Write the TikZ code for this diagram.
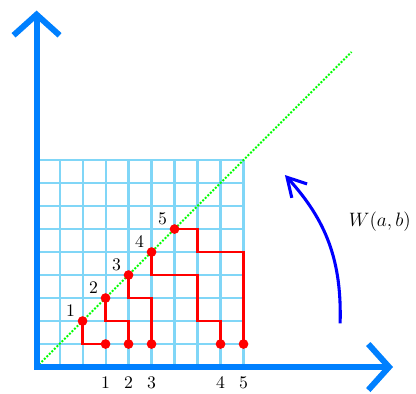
\documentclass[tikz,border=0pt]{standalone}
\usepackage{amsmath,amssymb}
\usetikzlibrary{arrows.meta, positioning, calc}
\definecolor{axisblue}{RGB}{0,128,255}
\begin{document}
\begin{tikzpicture}[x=0.5cm, y=0.5cm,
  axis/.style={draw=axisblue, line width=3.7pt,
               {Straight Barb[length=4.5mm, width=10mm]}-{Straight Barb[length=4.5mm, width=10mm]}},
  gridline/.style={draw=cyan!50, line width=1.3pt},
  diag/.style={draw=green, line width=1.2pt, dash pattern=on 1.2pt off 1pt},
  walk/.style={draw=red, line width=1.5pt},
  dot/.style={circle, fill=red, inner sep=0pt, minimum size=6pt},
  num/.style={font=\fontsize{11}{13}\selectfont, inner sep=1pt},
  turn/.style={draw=blue, line width=1.9pt, -{Straight Barb[length=4mm, width=4.5mm]}}]
\useasboundingbox (-1.59,-1.17) rectangle (16.5,15.96);
\draw[gridline, step=0.5cm] (0,0) grid (9.02,9.02);
\coordinate (o) at (0,0);
\coordinate (diagend) at (13.7,13.7);
\draw[diag] (o) -- (diagend);
\foreach \i/\x in {1/3,2/4,3/5,4/8,5/9} {
  \coordinate (d\i) at (\i+1,\i+1);
  \coordinate (b\i) at (\x,1);
  \node[num, above left=1.5pt and 3.5pt of d\i] (dl\i) {$\i$};
  \node[num] (bl\i) at (\x,-0.7) {$\i$};
}
\draw[walk] (d1) |- (b1);
\draw[walk] (d2) -- ++(0,-1) -| (b2);
\draw[walk] (d3) -- ++(0,-1) -| (b3);
\draw[walk] (d4) -- ++(0,-1) -| (7,2) -| (b4);
\draw[walk] (d5) -| (7,5) -| (b5);
\foreach \i in {1,...,5} {
  \node[dot] (pd\i) at (d\i) {};
  \node[dot] (pb\i) at (b\i) {};
}
\coordinate (ytip) at (0,15.5);
\coordinate (xtip) at (15.5,0);
\draw[axis] (ytip) -- (o) -- (xtip);
\coordinate (wstart) at (13.2,1.9);
\coordinate (wend) at (10.8,8.35);
\draw[turn] (wstart) to[bend right=22] (wend);
\node[font=\large] (wlabel) at (14.93,6.3) {$W(a,b)$};
\end{tikzpicture}
\end{document}
